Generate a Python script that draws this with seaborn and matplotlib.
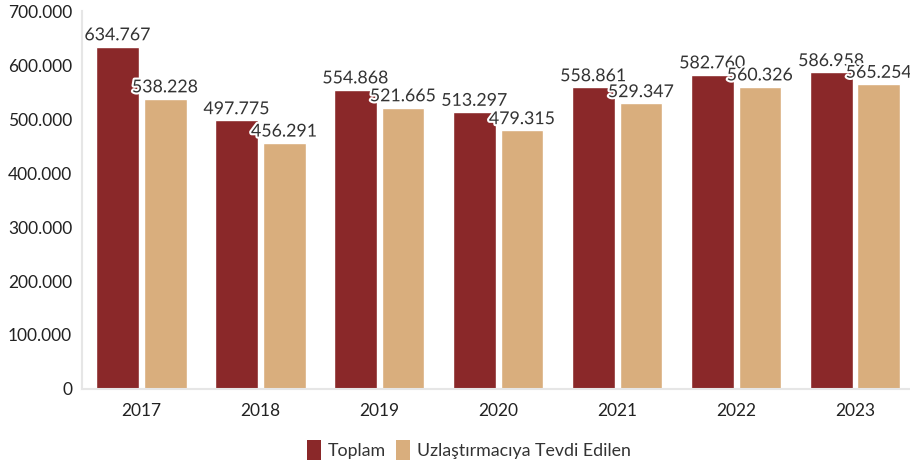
import matplotlib
matplotlib.use("Agg")
import matplotlib.pyplot as plt
import matplotlib.patheffects as pe
from matplotlib.patches import Patch
from matplotlib.ticker import FuncFormatter
import seaborn as sns
import pandas as pd

years = ["2017", "2018", "2019", "2020", "2021", "2022", "2023"]
toplam = [634767, 497775, 554868, 513297, 558861, 582760, 586958]
tevdi = [538228, 456291, 521665, 479315, 529347, 560326, 565254]
series = ["Toplam", "Uzlaştırmacıya Tevdi Edilen"]
colors = ["#8A2829", "#D9AE7D"]

df = pd.DataFrame({
    "year": years * 2,
    "value": toplam + tevdi,
    "series": [series[0]] * len(years) + [series[1]] * len(years),
})

sns.set_style("white")
plt.rcParams["font.family"] = ["Lato", "DejaVu Sans"]

fig = plt.figure(figsize=(9.1, 4.72), dpi=100)
ax = fig.add_axes([0.09, 0.176, 0.915, 0.80])

sns.barplot(data=df, x="year", y="value", hue="series", palette=colors,
            width=0.8, gap=0.1, ax=ax, legend=False, saturation=1)


def tr(v):
    return f"{int(v):,}".replace(",", ".")


for cont in ax.containers:
    for bar in cont:
        h = bar.get_height()
        ax.text(bar.get_x() + bar.get_width() / 2, h + 6000, tr(h),
                ha="center", va="bottom", fontsize=12.8, color="#333333",
                path_effects=[pe.withStroke(linewidth=3, foreground="white")])

ax.set_ylim(0, 700000)
ax.set_yticks(range(0, 700001, 100000))
ax.yaxis.set_major_formatter(FuncFormatter(lambda v, p: tr(v)))
ax.set_xlim(-0.5, 6.5)
ax.set_xlabel("")
ax.set_ylabel("")
for s in ["top", "right"]:
    ax.spines[s].set_visible(False)
for s in ["left", "bottom"]:
    ax.spines[s].set_color("#E6E6E6")
    ax.spines[s].set_linewidth(1.5)
ax.tick_params(axis="both", length=5, color="#E6E6E6", width=1.5,
               labelsize=12.5, labelcolor="#222222")
ax.tick_params(axis="y", pad=2)
ax.tick_params(axis="x", pad=5)

handles = [Patch(facecolor=c, edgecolor="none", label=l) for c, l in zip(colors, series)]
fig.legend(handles=handles, loc="lower center", bbox_to_anchor=(0.515, -0.008),
           ncol=2, frameon=False, fontsize=12.8, handlelength=0.8, handleheight=1.3,
           handletextpad=0.35, columnspacing=0.6, labelcolor="#333333")

fig.savefig("out.png", dpi=100)
